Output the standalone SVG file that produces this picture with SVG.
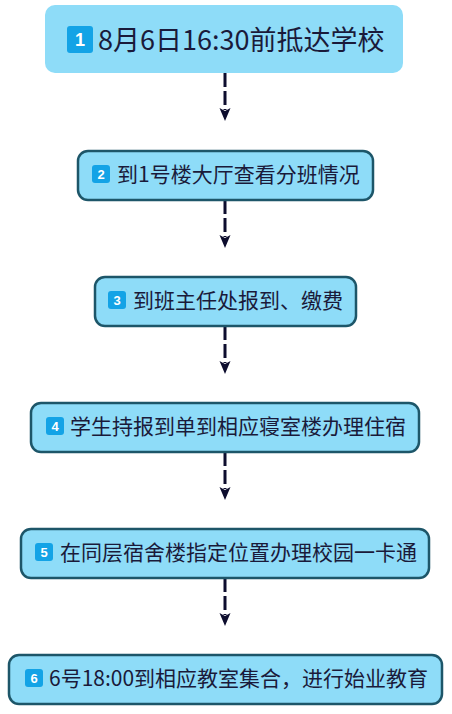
<svg xmlns="http://www.w3.org/2000/svg" width="452" height="714" viewBox="0 0 452 714">
<style>
.box{fill:#8edcf8;stroke:#1d5669;stroke-width:2.5}
.top{fill:#8edcf8}
.t{font-family:"Noto Sans CJK SC","Noto Sans",sans-serif;font-size:21px;fill:#1a1a3a}
.big{font-family:"Noto Sans CJK SC","Noto Sans",sans-serif;font-size:27px;fill:#1a1a3a}
.bd{fill:#13a3e6}
.bn{font-family:"Liberation Sans","Noto Sans",sans-serif;font-weight:bold;fill:#fff;text-anchor:middle}
.c{stroke:#0d0d2e;stroke-width:3;stroke-dasharray:14 4;fill:none}
</style>
<defs>
<marker id="ah" markerWidth="14" markerHeight="12" refX="2" refY="5.5" orient="auto" markerUnits="userSpaceOnUse">
<path d="M0,0 L13,5.5 L0,11 L3,5.5 z" fill="#0d0d2e"/>
</marker>
</defs>
<rect width="452" height="714" fill="#fff"/>
<g id="connectors">
<line class="c" x1="225" y1="73" x2="225" y2="110" marker-end="url(#ah)"/>
<line class="c" x1="225" y1="200" x2="225" y2="237" marker-end="url(#ah)"/>
<line class="c" x1="225" y1="326" x2="225" y2="363" marker-end="url(#ah)"/>
<line class="c" x1="225" y1="452" x2="225" y2="489" marker-end="url(#ah)"/>
<line class="c" x1="225" y1="578" x2="225" y2="615" marker-end="url(#ah)"/>
</g>
<g id="n1">
<rect class="top" x="45" y="5" width="358" height="68" rx="10"/>
<rect class="bd" x="67" y="26" width="26" height="27" rx="3"/>
<text class="bn" x="80" y="46" font-size="18">1</text>
<text class="big" x="98" y="50">8月6日16:30前抵达学校</text>
</g>
<g id="n2">
<rect class="box" x="78" y="151" width="295" height="49" rx="10"/>
<rect class="bd" x="92" y="165" width="18" height="18" rx="3"/>
<text class="bn" x="101" y="179" font-size="13">2</text>
<text class="t" x="117" y="182">到1号楼大厅查看分班情况</text>
</g>
<g id="n3">
<rect class="box" x="95" y="277" width="261" height="49" rx="10"/>
<rect class="bd" x="108" y="291" width="18" height="18" rx="3"/>
<text class="bn" x="117" y="305" font-size="13">3</text>
<text class="t" x="133" y="308">到班主任处报到、缴费</text>
</g>
<g id="n4">
<rect class="box" x="31" y="403" width="388" height="49" rx="10"/>
<rect class="bd" x="46" y="417" width="18" height="18" rx="3"/>
<text class="bn" x="55" y="431" font-size="13">4</text>
<text class="t" x="70" y="434">学生持报到单到相应寝室楼办理住宿</text>
</g>
<g id="n5">
<rect class="box" x="21" y="529" width="408" height="49" rx="10"/>
<rect class="bd" x="35" y="543" width="18" height="18" rx="3"/>
<text class="bn" x="44" y="557" font-size="13">5</text>
<text class="t" x="60" y="560">在同层宿舍楼指定位置办理校园一卡通</text>
</g>
<g id="n6">
<rect class="box" x="9" y="655" width="433" height="49" rx="10"/>
<rect class="bd" x="25" y="669" width="18" height="18" rx="3"/>
<text class="bn" x="34" y="683" font-size="13">6</text>
<text class="t" x="49" y="686">6号18:00到相应教室集合，进行始业教育</text>
</g>
</svg>
